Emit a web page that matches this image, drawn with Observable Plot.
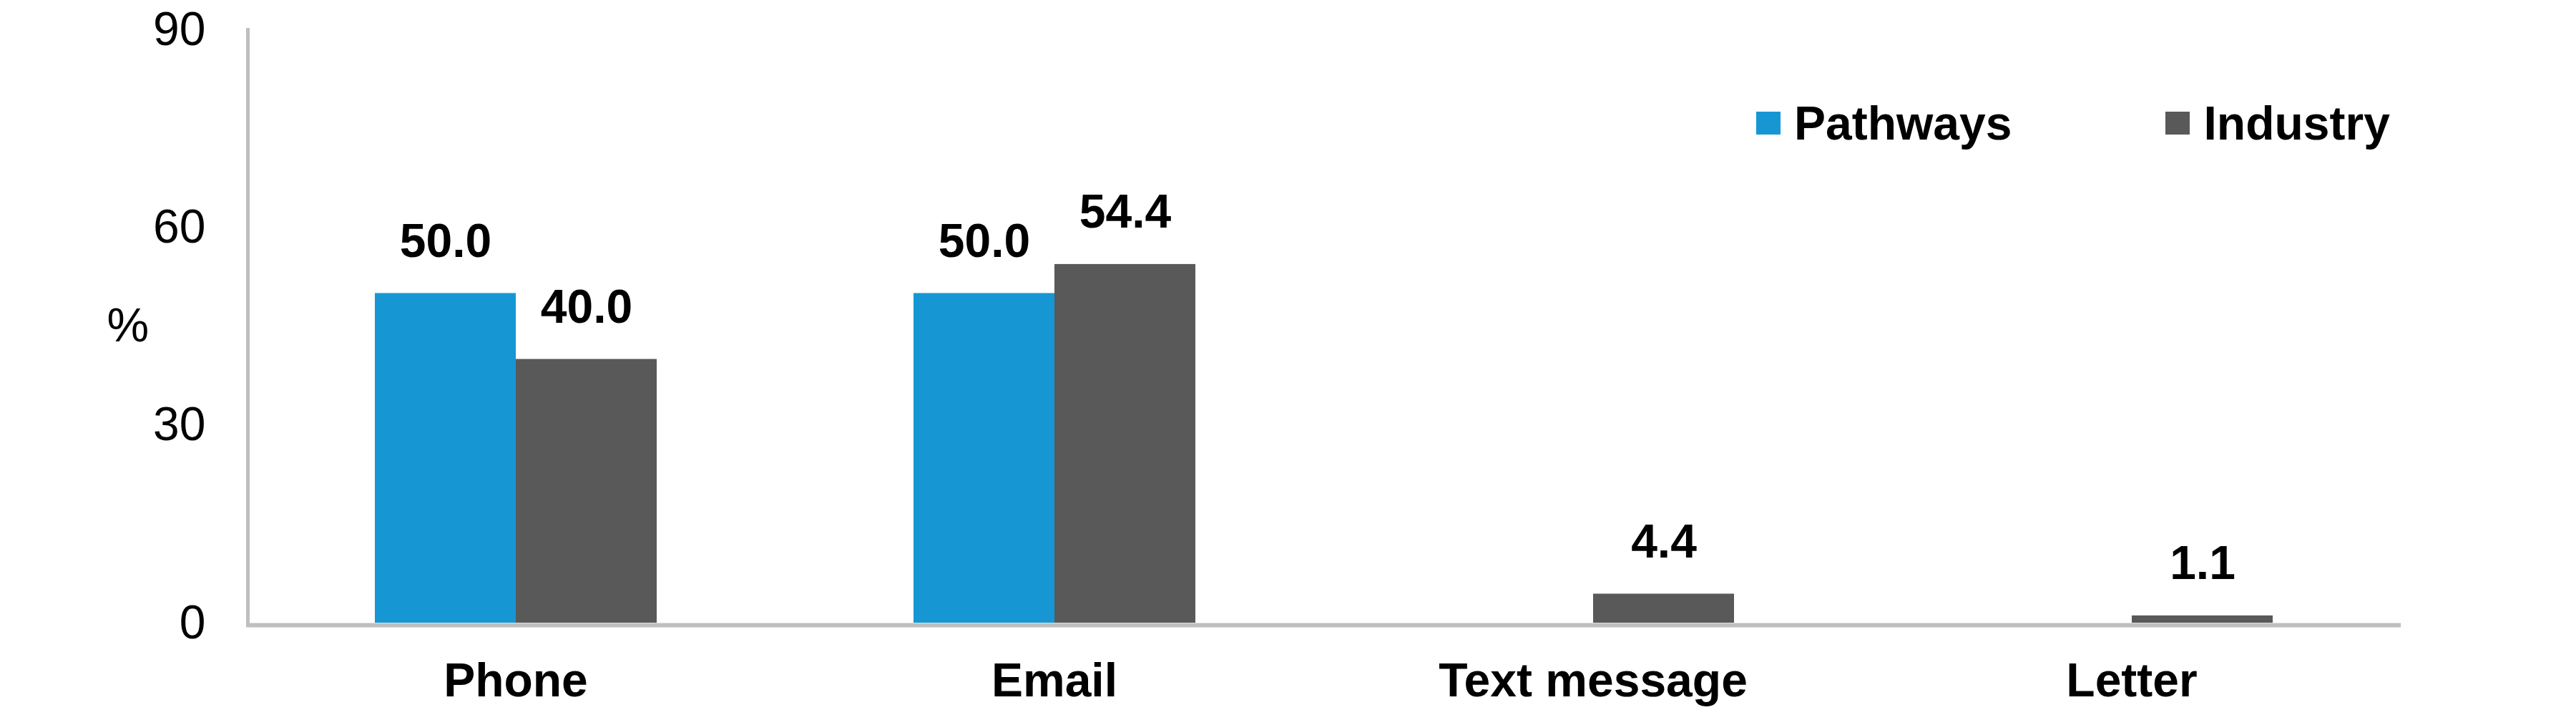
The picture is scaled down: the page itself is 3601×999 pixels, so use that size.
<!DOCTYPE html>
<html>
<head>
<meta charset="utf-8">
<script src="https://cdn.jsdelivr.net/npm/d3@7"></script>
<script src="https://cdn.jsdelivr.net/npm/@observablehq/plot@0.6"></script>
<style>
  html, body { margin: 0; padding: 0; background: #fff; }
  #wrap { position: relative; width: 3601px; height: 999px; font-family: "Liberation Sans", Arial, sans-serif; }
  #legend { position: absolute; left: 2455px; top: 139px; display: flex; align-items: center; gap: 215px; }
  .item { display: flex; align-items: center; }
  .sw { width: 34px; height: 32px; margin-right: 19px; }
  .lab { font-weight: bold; font-size: 66px; line-height: 66px; color: #000; }
</style>
</head>
<body>
<div id="wrap"></div>
<script>
const categories = ["Phone", "Email", "Text message", "Letter"];
const series = ["Pathways", "Industry"];
const pathways = [50.0, 50.0, 0, 0];
const industry = [40.0, 54.4, 4.4, 1.1];
const yTicks = [0, 30, 60, 90];
const colors = ["#1697D4", "#595959"];

const rows = [];
categories.forEach((c, i) => {
  rows.push({cat: c, series: "Pathways", value: pathways[i]});
  rows.push({cat: c, series: "Industry", value: industry[i]});
});

const FS = 66;

const chart = Plot.plot({
  width: 3601,
  height: 999,
  marginTop: 41,
  marginBottom: 129,
  marginLeft: 344,
  marginRight: 245,
  style: {fontFamily: "'Liberation Sans', Arial, sans-serif", fontSize: FS + "px", color: "#000", background: "#fff"},
  fx: {domain: categories, padding: 0},
  x: {domain: series, paddingInner: 0, paddingOuter: 0.906, axis: null},
  y: {domain: [0, 90]},
  color: {domain: series, range: colors},
  marks: [
    Plot.barY(rows, {fx: "cat", x: "series", y: "value", fill: "series"}),
    Plot.ruleY([0], {stroke: "#BFBFBF", strokeWidth: 6, dy: 3}),
    Plot.frame({anchor: "left", facetAnchor: "left", stroke: "#BFBFBF", strokeWidth: 5, dx: 2}),
    Plot.text(rows.filter(d => d.value > 0), {
      fx: "cat", x: "series", y: "value",
      text: d => d.value.toFixed(1),
      lineAnchor: "bottom", dy: -51, fontWeight: "bold", fontSize: FS, fill: "#000"
    }),
    Plot.text([{cat: categories[0]}], {fx: "cat", text: () => "%", frameAnchor: "left", dx: -195, fontSize: FS, fill: "#000"}),
    Plot.axisY({ticks: yTicks, tickSize: 0, tickPadding: 57, label: null, fontSize: FS}),
    Plot.axisFx({anchor: "bottom", tickSize: 0, tickPadding: 56, label: null, fontWeight: "bold", fontSize: FS})
  ]
});

const wrap = document.getElementById("wrap");
wrap.appendChild(chart);

const legend = document.createElement("div");
legend.id = "legend";
series.forEach((s, i) => {
  const item = document.createElement("div");
  item.className = "item";
  const sw = document.createElement("span");
  sw.className = "sw";
  sw.style.background = colors[i];
  const lab = document.createElement("span");
  lab.className = "lab";
  lab.textContent = s;
  item.appendChild(sw);
  item.appendChild(lab);
  legend.appendChild(item);
});
wrap.appendChild(legend);
</script>
</body>
</html>
